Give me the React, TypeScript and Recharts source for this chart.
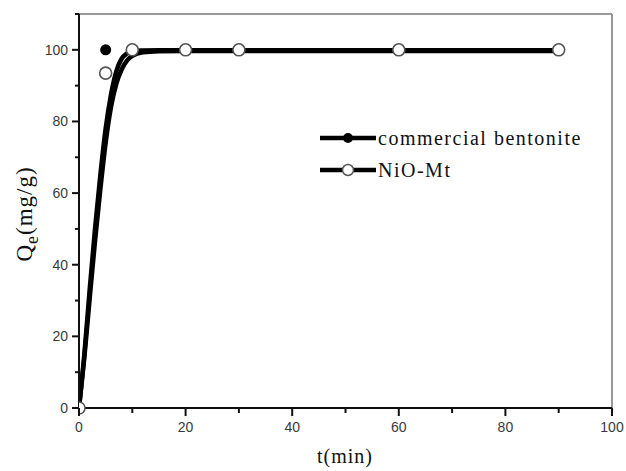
import { ComposedChart, Line, Scatter, XAxis, YAxis, ReferenceLine } from 'recharts';

// fitted kinetic curves
const fitTime = [0, 1, 2, 3, 4, 5, 6, 7, 8, 9, 10, 12, 15, 20, 30, 60, 90];
const bentoniteFit = [0, 15, 33, 50, 65, 78, 87.5, 94, 97.5, 99, 99.6, 99.8, 99.9, 99.9, 99.9, 99.9, 99.9];
const niomtFit = [0, 14, 30.5, 46.5, 61, 74, 84, 90.5, 94.5, 97, 98.3, 99.3, 99.6, 99.7, 99.7, 99.7, 99.7];

// measured points
const expTime = [0, 5, 10, 20, 30, 60, 90];
const bentoniteExp = [0, 100, 100, 100, 100, 100, 100];
const niomtExp = [0, 93.5, 100, 100, 100, 100, 100];

const xTicks = [0, 10, 20, 30, 40, 50, 60, 70, 80, 90, 100];
const yTicks = [0, 10, 20, 30, 40, 50, 60, 70, 80, 90, 100, 110];

const bentoniteLine = fitTime.map((t, i) => ({ t, q: bentoniteFit[i] }));
const niomtLine = fitTime.map((t, i) => ({ t, q: niomtFit[i] }));
const bentonitePts = expTime.map((t, i) => ({ t, q: bentoniteExp[i] }));
const niomtPts = expTime.map((t, i) => ({ t, q: niomtExp[i] }));

const TICK_FONT = '"Liberation Sans", Arial, sans-serif';
const SERIF = '"Liberation Serif", "Times New Roman", serif';

const XTick = (props: any) => {
    const { x, y, payload } = props;
    const major = payload.value % 20 === 0;
    return (
        <g>
            <path d={`M${x},${y}V${y + (major ? 8 : 5)}`} stroke="#111" strokeWidth={2} fill="none" />
            {major && (
                <text x={x} y={y + 24} textAnchor="middle" fontSize={14} fill="#3a3a3a" fontFamily={TICK_FONT}>
                    {payload.value}
                </text>
            )}
        </g>
    );
};

const YTick = (props: any) => {
    const { x, y, payload } = props;
    const major = payload.value % 20 === 0 && payload.value <= 100;
    return (
        <g>
            <path d={`M${x},${y}H${x - (major ? 7 : 4)}`} stroke="#111" strokeWidth={2} fill="none" />
            {major && (
                <text x={x - 11} y={y + 5} textAnchor="end" fontSize={14} fill="#3a3a3a" fontFamily={TICK_FONT}>
                    {payload.value}
                </text>
            )}
        </g>
    );
};

const FilledDot = (props: any) => (
    <circle cx={props.cx} cy={props.cy} r={5.5} fill="#000" />
);

const OpenDot = (props: any) => (
    <circle cx={props.cx} cy={props.cy} r={6} fill="#fff" stroke="#555" strokeWidth={1.6} />
);

const YLabel = () => (
    <text
        x={32}
        y={214}
        transform="rotate(-90, 32, 214)"
        textAnchor="middle"
        fontSize={23}
        fontFamily={SERIF}
        fill="#111"
        letterSpacing={1}
    >
        Q<tspan dy={6} fontSize={18}>e</tspan><tspan dy={-6}>(mg/g)</tspan>
    </text>
);

function LegendRow({ filled, label }: { filled: boolean; label: string }) {
    return (
        <div style={{ display: 'flex', alignItems: 'center', height: 32 }}>
            <svg width={58} height={16}>
                <line x1={1} x2={57} y1={8} y2={8} stroke="#000" strokeWidth={4.5} />
                {filled
                    ? <circle cx={29} cy={8} r={5} fill="#000" />
                    : <circle cx={29} cy={8} r={5.5} fill="#fff" stroke="#555" strokeWidth={1.5} />}
            </svg>
            <span style={{ fontFamily: SERIF, fontSize: 20, letterSpacing: 1.5, color: '#111', marginLeft: 1 }}>
                {label}
            </span>
        </div>
    );
}

export default function App() {
    return (
        <div style={{ position: 'absolute', left: 0, top: 0, width: 626, height: 471, background: '#fff' }}>
            <ComposedChart width={626} height={471} margin={{ top: 14, right: 14, bottom: 0, left: 0 }}>
                <XAxis
                    dataKey="t"
                    type="number"
                    domain={[0, 100]}
                    ticks={xTicks}
                    interval={0}
                    tickSize={0}
                    tickMargin={0}
                    tickLine={false}
                    tick={<XTick />}
                    height={63}
                    axisLine={{ stroke: '#111', strokeWidth: 2 }}
                    allowDataOverflow
                />
                <YAxis
                    dataKey="q"
                    type="number"
                    domain={[0, 110]}
                    ticks={yTicks}
                    interval={0}
                    tickSize={0}
                    tickMargin={0}
                    tickLine={false}
                    tick={<YTick />}
                    width={79}
                    axisLine={{ stroke: '#111', strokeWidth: 2 }}
                    label={<YLabel />}
                />
                <ReferenceLine y={110} stroke="#777" strokeWidth={1.5} />
                <ReferenceLine x={100} stroke="#777" strokeWidth={1.5} />
                <Line
                    data={niomtLine}
                    dataKey="q"
                    type="monotone"
                    stroke="#000"
                    strokeWidth={4.5}
                    dot={false}
                    activeDot={false}
                    isAnimationActive={false}
                />
                <Line
                    data={bentoniteLine}
                    dataKey="q"
                    type="monotone"
                    stroke="#000"
                    strokeWidth={4.5}
                    dot={false}
                    activeDot={false}
                    isAnimationActive={false}
                />
                <Scatter data={bentonitePts} dataKey="q" shape={<FilledDot />} isAnimationActive={false} />
                <Scatter data={niomtPts} dataKey="q" shape={<OpenDot />} isAnimationActive={false} />
            </ComposedChart>
            <div style={{ position: 'absolute', left: 319, top: 122 }}>
                <LegendRow filled label="commercial bentonite" />
                <LegendRow filled={false} label="NiO-Mt" />
            </div>
            <div
                style={{
                    position: 'absolute',
                    left: 0,
                    width: 626,
                    top: 445,
                    textAlign: 'center',
                    paddingLeft: 64,
                    boxSizing: 'border-box',
                    fontFamily: SERIF,
                    fontSize: 20,
                    letterSpacing: 1,
                    color: '#111',
                }}
            >
                t(min)
            </div>
        </div>
    );
}
